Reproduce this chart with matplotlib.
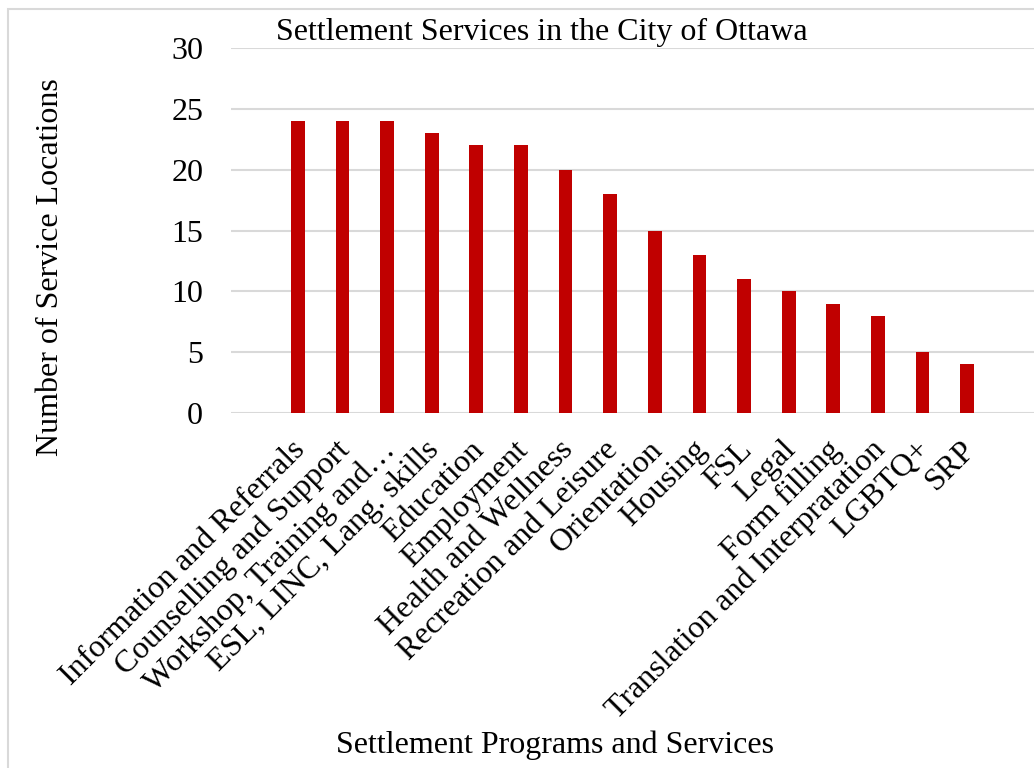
import numpy as np
import matplotlib.pyplot as plt
from matplotlib.patches import Rectangle
from matplotlib.transforms import ScaledTranslation

# dados
servicos = ["Information and Referrals", "Counselling and Support",
            "Workshop, Training and\u2026", "ESL, LINC, Lang. skills",
            "Education", "Employment", "Health and Wellness",
            "Recreation and Leisure", "Orientation", "Housing", "FSL",
            "Legal", "Form filling", "Translation and Interpratation",
            "LGBTQ+", "SRP"]
locais = [24, 24, 24, 23, 22, 22, 20, 18, 15, 13, 11, 10, 9, 8, 5, 4]
yticks = [0, 5, 10, 15, 20, 25, 30]

plt.rcParams['font.family'] = ['Liberation Serif', 'DejaVu Serif']

fig = plt.figure(figsize=(10.34, 7.68), dpi=100)
# moldura cinza do gráfico
fig.patches.append(Rectangle((8 / 1034, -0.1), 1.2, 1 - 9 / 768 + 0.1,
                             transform=fig.transFigure, fill=False,
                             edgecolor='#d9d9d9', linewidth=1.5))

ax = fig.add_axes([231 / 1034, 1 - 413 / 768, 1 - 231 / 1034, 365 / 768])
x = np.arange(len(servicos))
ax.bar(x, locais, width=0.31, color='#c00000', zorder=3)

ax.set_ylim(0, 30)
ax.set_yticks(yticks)
ax.set_xlim(-1.5, len(servicos) - 1 + 1.5)
ax.grid(axis='y', color='#d9d9d9', linewidth=1.5, zorder=0)
for s in ax.spines.values():
    s.set_visible(False)
ax.tick_params(axis='both', length=0, labelsize=23)
ax.tick_params(axis='y', pad=20)
ax.set_xticks(x)
ax.set_xticklabels(servicos, rotation=45, ha='right', va='top',
                   rotation_mode='anchor', fontsize=23)
ax.tick_params(axis='x', pad=16)
# desloca os rótulos um pouco para a esquerda
desloc = ScaledTranslation(-7 / 100, 0, fig.dpi_scale_trans)
for lbl in ax.get_xticklabels():
    lbl.set_transform(lbl.get_transform() + desloc)

fig.text(51 / 1034, 1 - 267 / 768, "Number of Service Locations",
         rotation=90, ha='center', va='center', fontsize=23)
fig.text(542 / 1034, 1 - 32 / 768, "Settlement Services in the City of Ottawa",
         ha='center', va='center', fontsize=23)
fig.text(555 / 1034, 1 - 745 / 768, "Settlement Programs and Services",
         ha='center', va='center', fontsize=23)

fig.savefig("out.png", dpi=100)
